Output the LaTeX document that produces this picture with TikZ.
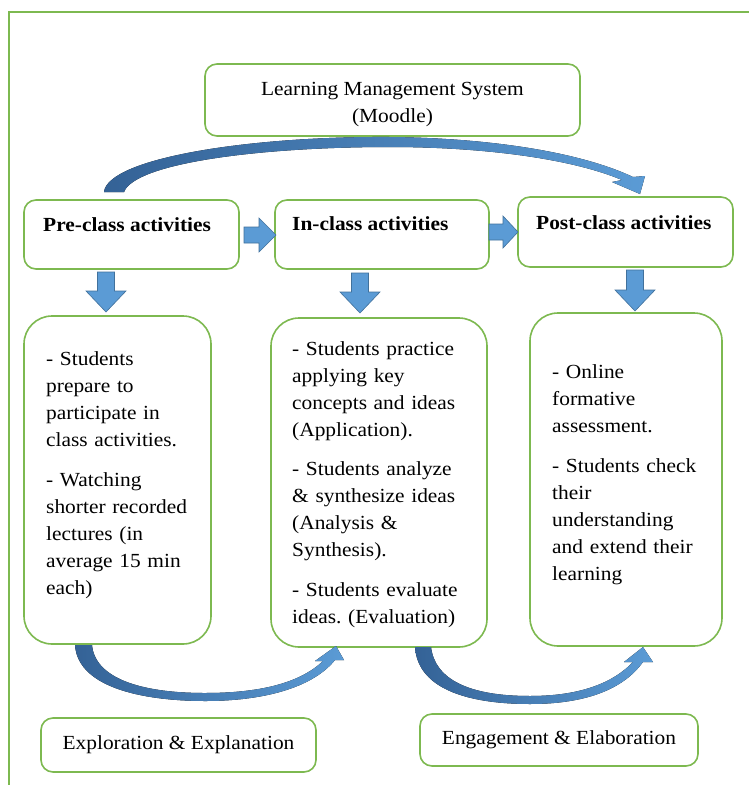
\documentclass[tikz,border=0pt]{standalone}
\usepackage{fontspec}
\setmainfont{Liberation Serif}[FakeStretch=1.07]
\definecolor{gborder}{RGB}{125,185,80}
\definecolor{bfill}{RGB}{91,155,213}
\definecolor{bedge}{RGB}{65,113,156}
\definecolor{bdark}{RGB}{52,98,150}
\frenchspacing
\begin{document}
\begin{tikzpicture}[x=1pt,y=-1pt,
  gbox/.style={draw=gborder, line width=1.6pt, rounded corners=12pt, fill=white, inner sep=0pt},
  bigbox/.style={gbox, rounded corners=28pt},
  txt/.style={font=\fontsize{20}{27}\selectfont, inner sep=0pt},
  btxt/.style={font=\fontsize{20}{27}\selectfont\bfseries, inner sep=0pt, anchor=base west},
  para/.style={txt, text width=200pt, align=left, anchor=base west},
  blockarrow/.style={fill=bfill, draw=bedge, line width=0.6pt},
  curvearrow/.style={left color=bdark, right color=bfill, draw=none}]
\useasboundingbox (0,0) rectangle (749,785);
\fill[white] (0,0) rectangle (749,785);
\draw[gborder, line width=1.5pt] (9,785) -- (9,12) -- (749,12);

% boxes
\node[gbox, minimum width=375pt, minimum height=72pt] (lms) at (392.5,100) {};
\node[txt, align=center] (lmst) at (392.5,105) {Learning Management System\\(Moodle)};
\node[gbox, minimum width=215pt, minimum height=69pt] (pre) at (131.5,234.5) {};
\node[gbox, minimum width=214pt, minimum height=69pt] (in) at (382,234.5) {};
\node[gbox, minimum width=215pt, minimum height=70pt] (post) at (625.5,232) {};
\node[bigbox, minimum width=187pt, minimum height=328pt] (c1) at (117.5,480) {};
\node[bigbox, minimum width=216pt, minimum height=329pt] (c2) at (379,482.5) {};
\node[bigbox, minimum width=192pt, minimum height=333pt] (c3) at (626,479.5) {};
\node[gbox, minimum width=275pt, minimum height=54pt, txt] (expl) at (178.5,745) {Exploration \& Explanation};
\node[gbox, minimum width=278pt, minimum height=52pt, txt] (eng) at (559,740) {Engagement \& Elaboration};

% headings
\node[btxt] (t1) at (43,231) {Pre-class activities};
\node[btxt] (t2) at (292,230) {In-class activities};
\node[btxt] (t3) at (536,229) {Post-class activities};

% contents
\node[para] (p1) at (46,365) {- Students\\ prepare to\\ participate in\\ class activities.\\[13pt] - Watching\\ shorter recorded\\ lectures (in\\ average 15 min\\ each)};
\node[para] (p2) at (292,355) {- Students practice\\ applying key\\ concepts and ideas\\ (Application).\\[12pt] - Students analyze\\ \& synthesize ideas\\ (Analysis \&\\ Synthesis).\\[13pt] - Students evaluate\\ ideas. (Evaluation)};
\node[para] (p3) at (552,378) {- Online\\ formative\\ assessment.\\[13pt] - Students check\\ their\\ understanding\\ and extend their\\ learning};

% straight block arrows
\filldraw[blockarrow] (244,227) -- (259,227) -- (259,218) -- (276,235) -- (259,252) -- (259,243) -- (244,243) -- cycle;
\filldraw[blockarrow] (489,224) -- (503,224) -- (503,216) -- (518,232) -- (503,248) -- (503,240) -- (489,240) -- cycle;
\filldraw[blockarrow] (97.5,272) -- (114.5,272) -- (114.5,291) -- (126,291) -- (106,312) -- (86,291) -- (97.5,291) -- cycle;
\filldraw[blockarrow] (351.5,273) -- (368.5,273) -- (368.5,292) -- (380,292) -- (360,313) -- (340,292) -- (351.5,292) -- cycle;
\filldraw[blockarrow] (626.5,270) -- (643.5,270) -- (643.5,290) -- (655,290) -- (635,311) -- (615,290) -- (626.5,290) -- cycle;

% curved arrows
\fill[curvearrow] (104,192) .. controls (108,158) and (250,136) .. (390,137)
  .. controls (490,138) and (580,152) .. (633,177) -- (645,176) -- (640,194) -- (612,182) -- (622,180)
  .. controls (570,158) and (480,147) .. (390,147)
  .. controls (260,147) and (135,163) .. (124,192) -- cycle;
\fill[curvearrow] (75,645) .. controls (78,690) and (150,701) .. (205,701)
  .. controls (270,701) and (315,685) .. (335,660) -- (344,660) -- (336,646) -- (315,661) -- (323,661)
  .. controls (300,683) and (260,693) .. (205,693)
  .. controls (140,693) and (95,678) .. (92,645) -- cycle;
\fill[curvearrow] (415,647) .. controls (418,692) and (475,704) .. (530,704)
  .. controls (590,704) and (625,687) .. (643,662) -- (653,662) -- (643,647) -- (624,662) -- (633,662)
  .. controls (613,683) and (580,696) .. (530,696)
  .. controls (470,696) and (435,680) .. (431,647) -- cycle;
\end{tikzpicture}
\end{document}
